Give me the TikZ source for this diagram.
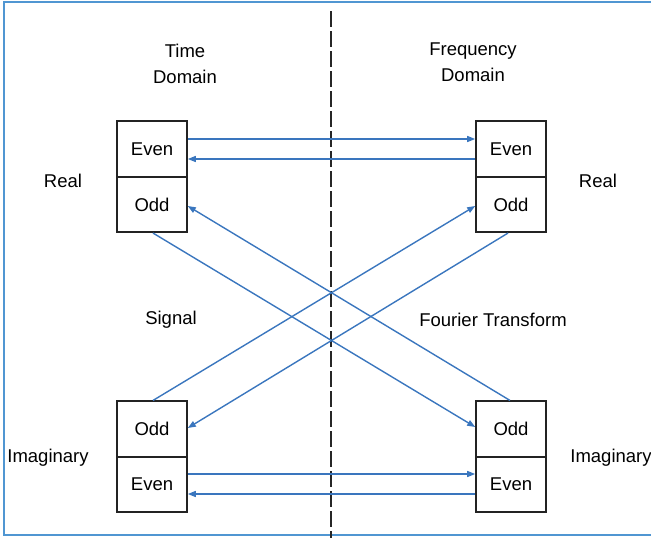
\documentclass[tikz,border=0pt]{standalone}
\usepackage{fontspec}
\setmainfont{Liberation Sans}
\usetikzlibrary{arrows.meta}
\definecolor{arrowblue}{RGB}{58,118,190}
\definecolor{frameblue}{RGB}{80,150,210}
\definecolor{boxline}{RGB}{35,35,35}
\tikzset{
  half/.style={draw=boxline, line width=1.6pt, minimum width=70pt, minimum height=55.5pt, inner sep=0pt, font=\fontsize{18.5}{20}\selectfont},
  lbl/.style={font=\fontsize{18.5}{21}\selectfont, align=center, inner sep=0pt},
  conn/.style={draw=arrowblue, line width=1.4pt, -{Triangle[length=8pt,width=6pt]}},
}
\begin{document}
\begin{tikzpicture}[x=1pt,y=-1pt]
\useasboundingbox (0,0) rectangle (651,538);
\draw[frameblue, line width=1.3pt] (4,2) rectangle (660,535);
\coordinate (dtop) at (331,11);
\coordinate (dbot) at (331,538);
\draw[black!85, line width=2pt, dash pattern=on 16pt off 4pt] (dtop) -- (dbot);
% boxes
\node[half] (LTE) at (152,149) {Even};
\node[half] (LTO) at (152,204.5) {Odd};
\node[half] (RTE) at (511,149) {Even};
\node[half] (RTO) at (511,204.5) {Odd};
\node[half] (LBO) at (152,429) {Odd};
\node[half] (LBE) at (152,484.5) {Even};
\node[half] (RBO) at (511,429) {Odd};
\node[half] (RBE) at (511,484.5) {Even};
% labels
\node[lbl] (td) at (185,64) {Time\\[5pt]Domain};
\node[lbl] (fd) at (473,62.5) {Frequency\\[5pt]Domain};
\node[lbl] (realL) at (63,181) {Real};
\node[lbl] (realR) at (598,181) {Real};
\node[lbl] (sig) at (171,320) {Signal};
\node[lbl] (ft) at (493,320) {Fourier Transform};
\node[lbl] (imL) at (48,458) {Imaginary};
\node[lbl] (imR) at (611,458) {Imaginary};
% horizontal arrows
\draw[conn] (LTE.east |- 0,139) -- (RTE.west |- 0,139);
\draw[conn] (RTE.west |- 0,159) -- (LTE.east |- 0,159);
\draw[conn] (LBE.east |- 0,474) -- (RBE.west |- 0,474);
\draw[conn] (RBE.west |- 0,494) -- (LBE.east |- 0,494);
% diagonals
\draw[conn] ([xshift=1pt]LTO.south) -- (RBO.west |- 0,427);
\draw[conn] ([xshift=-1pt]RBO.north) -- (LTO.east |- 0,206);
\draw[conn] ([xshift=1pt]LBO.north) -- (RTO.west |- 0,206);
\draw[conn] ([xshift=-3pt]RTO.south) -- (LBO.east |- 0,428);
\end{tikzpicture}
\end{document}
